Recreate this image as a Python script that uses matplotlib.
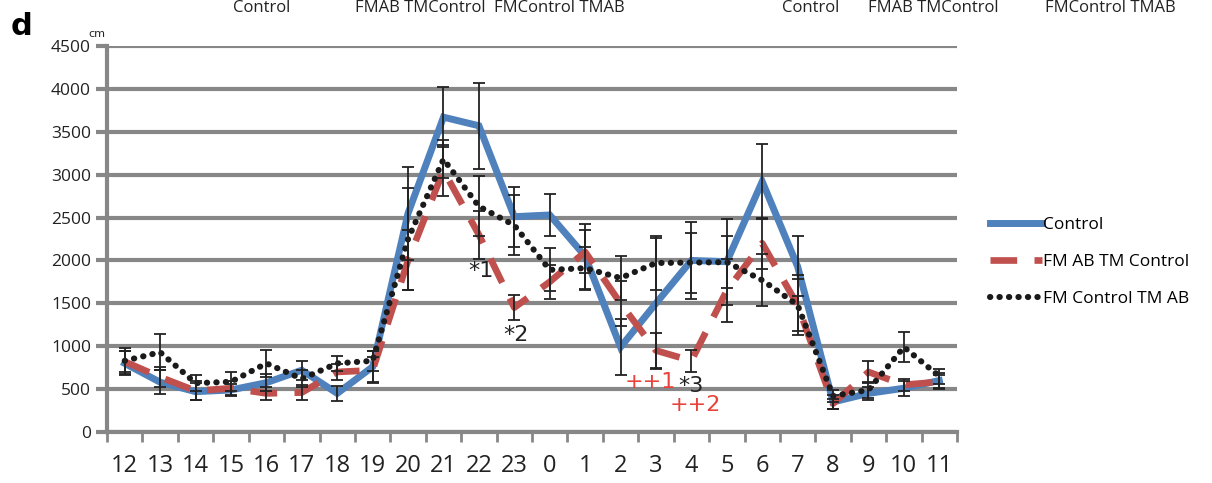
import matplotlib.pyplot as plt
import numpy as np

hours = ['12', '13', '14', '15', '16', '17', '18', '19', '20', '21', '22', '23',
         '0', '1', '2', '3', '4', '5', '6', '7', '8', '9', '10', '11']

control = [800, 580, 470, 490, 575, 720, 450, 760, 2550, 3670, 3570, 2510,
           2530, 2050, 990, 1500, 2000, 1985, 2920, 1930, 350, 450, 510, 600]
control_err = [140, 140, 100, 70, 100, 110, 90, 180, 540, 350, 500, 350,
               250, 380, 330, 760, 450, 500, 440, 350, 80, 80, 90, 90]

fm_ab = [820, 640, 480, 510, 450, 460, 700, 720, 2000, 3050, 2300, 1450,
         1750, 2100, 1500, 950, 830, 1650, 2200, 1480, 330, 700, 550, 585]
fm_ab_err = [120, 120, 110, 80, 80, 90, 90, 150, 350, 300, 280, 150,
             200, 250, 260, 200, 130, 370, 300, 300, 60, 130, 70, 80]

fm_ctrl = [830, 930, 570, 585, 800, 620, 800, 830, 2250, 3180, 2630, 2410,
           1890, 1910, 1795, 1970, 1975, 1980, 1770, 1480, 420, 490, 990, 650]
fm_ctrl_err = [150, 210, 90, 110, 160, 100, 85, 120, 600, 220, 350, 350,
               250, 250, 260, 320, 350, 300, 300, 350, 70, 90, 170, 90]

x = np.arange(len(hours))
grey = '#878787'

fig = plt.figure(figsize=(12.12, 4.83), dpi=100)
ax = fig.add_axes([0.0883, 0.1056, 0.7013, 0.7992])

ax.plot(x, control, color='#4f81bd', lw=5, solid_joinstyle='miter', zorder=3, label='Control')
ax.plot(x, fm_ab, color='#c0504d', lw=4.8, dashes=(4.0, 2.6), zorder=4, label='FM AB TM Control')
ax.plot(x, fm_ctrl, color='#1a1a1a', lw=4.4, linestyle=(0, (0.05, 1.5)),
        dash_capstyle='round', zorder=5, label='FM Control TM AB')

for vals, err in [(control, control_err), (fm_ab, fm_ab_err), (fm_ctrl, fm_ctrl_err)]:
    ax.errorbar(x, vals, yerr=err, fmt='none', ecolor='#222222', elinewidth=1.3,
                capsize=4, capthick=1.3, zorder=6)

ax.set_xlim(-0.5, 23.5)
ax.set_ylim(0, 4500)
ax.set_yticks(np.arange(0, 4501, 500))
ax.yaxis.grid(True, color=grey, lw=3)
ax.set_axisbelow(True)
ax.set_xticks(x)
ax.set_xticklabels(hours, fontsize=17, family='Open Sans')
ax.set_xticks(np.arange(-0.5, 24, 1), minor=True)
ax.tick_params(axis='x', which='major', length=0, pad=16, colors='#222222')
ax.tick_params(axis='x', which='minor', length=7, width=2, color=grey)
ax.tick_params(axis='y', length=8, width=3, color=grey, labelsize=12.5, colors='#222222')
for lab in ax.get_yticklabels():
    lab.set_family('Open Sans')

for s in ['top', 'right']:
    ax.spines[s].set_visible(False)
for s in ['left', 'bottom']:
    ax.spines[s].set_color(grey)
    ax.spines[s].set_linewidth(3)

# significance marks
ax.text(10.05, 1880, '*1', fontsize=16, color='#222222', ha='center', va='center', zorder=8)
ax.text(11.05, 1130, '*2', fontsize=16, color='#222222', ha='center', va='center', zorder=8)
ax.text(14.85, 580, '++1', fontsize=16, color='#e8423a', ha='center', va='center', zorder=8)
ax.text(16.0, 540, '*3', fontsize=16, color='#222222', ha='center', va='center', zorder=8)
ax.text(16.1, 310, '++2', fontsize=16, color='#e8423a', ha='center', va='center', zorder=8)

ax.legend(loc='center left', bbox_to_anchor=(1.02, 0.44), frameon=False,
          handlelength=3.0, handletextpad=0.1, labelspacing=1.2,
          prop={'family': 'Open Sans', 'size': 12.5})

fig.text(0.009, 0.945, 'd', fontsize=22, fontweight='bold', va='center')
fig.text(0.073, 0.93, 'cm', fontsize=8, color='#222222', va='center')
for xp, t in [(0.192, 'Control'), (0.293, 'FMAB TMControl'), (0.408, 'FMControl TMAB'),
              (0.645, 'Control'), (0.716, 'FMAB TMControl'), (0.862, 'FMControl TMAB')]:
    fig.text(xp, 0.983, t, fontsize=12, color='#222222', va='center', family='Open Sans')

fig.savefig('out.png', dpi=100)
